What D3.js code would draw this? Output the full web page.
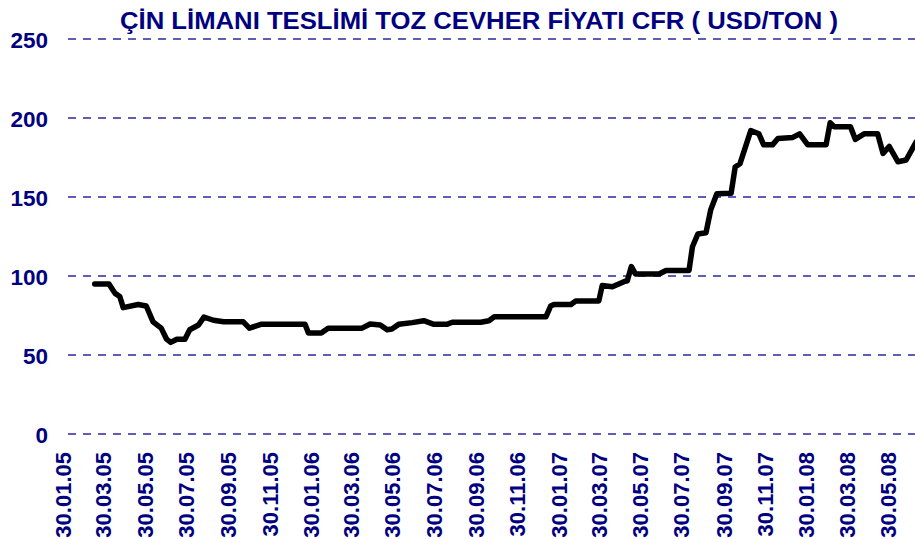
<!DOCTYPE html>
<html>
<head>
<meta charset="utf-8">
<script src="https://cdn.jsdelivr.net/npm/d3@7"></script>
<style>
body { margin: 0; background: #fff; }
svg { display: block; }
</style>
</head>
<body>
<script>
var w = 915;
var h = 539;

var title = "ÇİN LİMANI TESLİMİ TOZ CEVHER FİYATI CFR ( USD/TON )";

// weekly-ish price points
var dates = [
  "2005-03-17","2005-04-07","2005-04-16","2005-04-23","2005-04-28","2005-05-20","2005-06-01","2005-06-11",
  "2005-06-23","2005-07-01","2005-07-07","2005-07-16","2005-07-28","2005-08-04","2005-08-17","2005-08-25",
  "2005-09-08","2005-09-23","2005-10-22","2005-10-31","2005-11-18","2006-01-21","2006-01-26","2006-02-14",
  "2006-02-24","2006-04-15","2006-04-27","2006-05-12","2006-05-22","2006-05-29","2006-06-08","2006-06-28",
  "2006-07-15","2006-07-30","2006-08-18","2006-08-26","2006-10-07","2006-10-19","2006-10-27","2007-01-11",
  "2007-01-18","2007-01-23","2007-02-17","2007-02-24","2007-03-30","2007-04-04","2007-04-19","2007-05-06",
  "2007-05-11","2007-05-17","2007-05-23","2007-06-27","2007-07-07","2007-08-10","2007-08-15","2007-08-23",
  "2007-09-04","2007-09-11","2007-09-20","2007-10-11","2007-10-17","2007-10-24","2007-11-09","2007-11-21",
  "2007-11-28","2007-12-11","2007-12-19","2008-01-10","2008-01-20","2008-02-01","2008-02-28","2008-03-05",
  "2008-03-11","2008-04-04","2008-04-11","2008-04-24","2008-05-14","2008-05-22","2008-05-31","2008-06-13",
  "2008-06-25","2008-07-10"
];
var prices = [
  95, 95, 89, 87, 80, 82, 81, 71,
  67, 60, 58, 60, 60, 66, 69, 74,
  72, 71, 71, 67, 69.5, 69.5, 64, 64,
  67, 67, 69.6, 69, 66, 66.5, 69.4, 70.5,
  71.7, 69.4, 69.4, 70.7, 70.7, 71.7, 74.2, 74.2,
  81, 82, 82, 84.2, 84.2, 94, 93.2, 96.4,
  97, 106, 101.3, 101.3, 103.5, 103.5, 118.5, 126.6,
  127.4, 142, 152, 152.3, 169, 171, 192, 190,
  183, 183, 187, 187.7, 190, 183, 183, 197,
  194.5, 194.5, 186.5, 190, 190, 177.6, 182, 172.3,
  173.4, 185
];

var yTicks = [0, 50, 100, 150, 200, 250];
var xTickLabels = [
  "30.01.05","30.03.05","30.05.05","30.07.05","30.09.05","30.11.05","30.01.06","30.03.06",
  "30.05.06","30.07.06","30.09.06","30.11.06","30.01.07","30.03.07","30.05.07","30.07.07",
  "30.09.07","30.11.07","30.01.08","30.03.08","30.05.08"
];

var parse = d3.timeParse("%Y-%m-%d");
var parseTick = d3.timeParse("%d.%m.%y");
var data = dates.map(function(d, i) { return { date: parse(d), value: prices[i] }; });

var navy = "#000080";

var svg = d3.select("body").append("svg")
  .attr("width", w)
  .attr("height", h);

var x = d3.scaleTime()
  .domain([parseTick("30.01.05"), parseTick("30.05.08")])
  .range([63.5, 888.5]);

var y = d3.scaleLinear()
  .domain([0, 250])
  .range([434, 39]);

var plotLeft = 68, plotRight = w;

// title
svg.append("text")
  .attr("x", 479)
  .attr("y", 29)
  .attr("text-anchor", "middle")
  .attr("textLength", 718)
  .attr("lengthAdjust", "spacingAndGlyphs")
  .style("font-family", "'Liberation Sans Narrow', 'Liberation Sans', Arial, sans-serif")
  .style("font-weight", "bold")
  .style("font-size", "23px")
  .attr("fill", navy)
  .text(title);

// grid
svg.append("g").selectAll("line").data(yTicks).enter()
  .append("line")
  .attr("x1", plotLeft)
  .attr("x2", plotRight)
  .attr("y1", function(d) { return y(d); })
  .attr("y2", function(d) { return y(d); })
  .attr("stroke", "#2a2a9c")
  .attr("stroke-width", 1.5)
  .attr("stroke-dasharray", "8,7");

// y labels
var yAxis = svg.append("g")
  .attr("transform", "translate(48,0)")
  .call(d3.axisLeft(y).tickValues(yTicks).tickSize(0).tickPadding(0));
yAxis.select(".domain").remove();
yAxis.selectAll("text")
  .attr("fill", navy)
  .attr("dy", "0.36em")
  .style("font-family", "'Liberation Sans', Arial, sans-serif")
  .style("font-weight", "bold")
  .style("font-size", "22.5px");

// x labels
svg.append("g").selectAll("text").data(xTickLabels).enter()
  .append("text")
  .attr("transform", function(d) { return "translate(" + x(parseTick(d)) + ",452) rotate(-90)"; })
  .attr("text-anchor", "end")
  .attr("dy", "0.36em")
  .attr("fill", navy)
  .style("font-family", "'Liberation Sans', Arial, sans-serif")
  .style("font-weight", "bold")
  .style("font-size", "22px")
  .text(function(d) { return d; });

// price line
svg.append("clipPath").attr("id", "plot")
  .append("rect")
  .attr("x", plotLeft).attr("y", 0)
  .attr("width", plotRight - plotLeft).attr("height", 440);

var line = d3.line()
  .x(function(d) { return x(d.date); })
  .y(function(d) { return y(d.value); });

svg.append("path")
  .datum(data)
  .attr("clip-path", "url(#plot)")
  .attr("d", line)
  .attr("fill", "none")
  .attr("stroke", "#000")
  .attr("stroke-width", 5.5)
  .attr("stroke-linejoin", "round")
  .attr("stroke-linecap", "round");
</script>
</body>
</html>
